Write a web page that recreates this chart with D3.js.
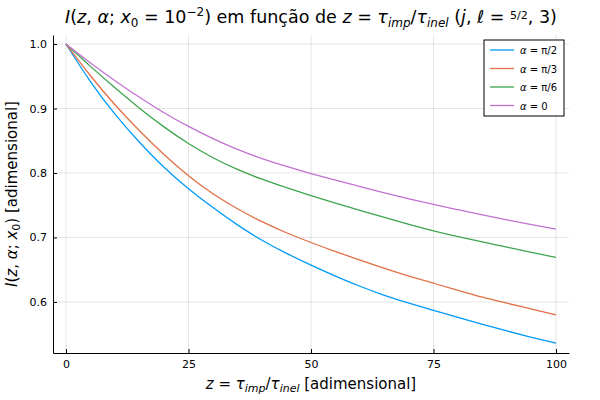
<!DOCTYPE html>
<html><head><meta charset="utf-8">
<script src="https://cdn.jsdelivr.net/npm/d3@7"></script>
<style>body{margin:0;background:#fff}text{font-family:"DejaVu Sans",sans-serif}</style>
</head><body><svg></svg>
<script>
const xs = [0,5,10,15,20,25,30,35,40,45,50,55,60,65,70,75,80,85,90,95,100];
const seriesNames = ["α = π/2","α = π/3","α = π/6","α = 0"];
const colors = ["#009af9","#e26f46","#3da44d","#c271d2"];
const sHalfPi = [1,.94,.89,.847,.808,.775,.746,.719,.695,.675,.657,.64,.624,.61,.598,.587,.576,.565,.555,.545,.536];
const sThirdPi = [1,.95,.905,.865,.828,.795,.767,.744,.724,.707,.692,.678,.665,.652,.64,.629,.618,.607,.598,.589,.58];
const sSixthPi = [1,.965,.932,.9,.871,.845,.823,.805,.79,.777,.765,.753,.742,.731,.72,.71,.701,.693,.685,.677,.669];
const sZero = [1,.97,.943,.917,.893,.872,.853,.836,.822,.81,.799,.789,.779,.769,.76,.751,.743,.735,.727,.72,.713];
const series = [sHalfPi,sThirdPi,sSixthPi,sZero];
const xTicks = [0,25,50,75,100];
const yTicks = [0.6,0.7,0.8,0.9,1.0];

const W=600,H=400,L=53,R=569,T=35,B=353;
const svg=d3.select("svg").attr("width",W).attr("height",H);
const x=d3.scaleLinear().domain([-2.65,102.65]).range([L,R]);
const y=d3.scaleLinear().domain([0.5208,1.014]).range([B,T]);

svg.append("g").selectAll("line").data(xTicks).join("line")
  .attr("x1",d=>x(d)).attr("x2",d=>x(d)).attr("y1",T).attr("y2",B).attr("stroke","#000").attr("stroke-opacity",0.1);
svg.append("g").selectAll("line").data(yTicks).join("line")
  .attr("x1",L).attr("x2",R).attr("y1",d=>y(d)).attr("y2",d=>y(d)).attr("stroke","#000").attr("stroke-opacity",0.1);

const xAxis=svg.append("g").attr("transform",`translate(0,${B})`)
  .call(d3.axisBottom(x).tickValues(xTicks).tickSize(-4).tickPadding(7).tickSizeOuter(0));
const yAxis=svg.append("g").attr("transform",`translate(${L},0)`)
  .call(d3.axisLeft(y).tickValues(yTicks).tickFormat(d3.format(".1f")).tickSize(-4).tickPadding(6).tickSizeOuter(0));
[xAxis,yAxis].forEach(a=>{a.selectAll("text").attr("font-size",11).attr("font-family","DejaVu Sans");a.select(".domain").attr("stroke","#000");});

const line=d3.line().x((d,i)=>x(xs[i])).y(d=>y(d)).curve(d3.curveBasis);
svg.append("g").selectAll("path").data(series).join("path")
  .attr("d",line).attr("fill","none").attr("stroke",(d,i)=>colors[i]).attr("stroke-width",1.3);

const lg=svg.append("g").attr("transform","translate(484,40)");
lg.append("rect").attr("width",80).attr("height",76).attr("fill","#fff").attr("stroke","#000");
seriesNames.forEach((n,i)=>{
  const yy=10+i*18.5;
  lg.append("line").attr("x1",6).attr("x2",30).attr("y1",yy).attr("y2",yy).attr("stroke",colors[i]).attr("stroke-width",1.3);
  const t=lg.append("text").attr("x",36).attr("y",yy+4).attr("font-size",10);
  const p=n.split(" = ");
  t.append("tspan").attr("font-style","italic").text(p[0]);
  t.append("tspan").text(" = "+p[1]);
});

const tt=svg.append("text").attr("x",311).attr("y",23).attr("text-anchor","middle").attr("font-size",17.5);
const it=s=>tt.append("tspan").attr("font-style","italic").text(s);
const rm=s=>tt.append("tspan").text(s);
it("I");rm("(");it("z");rm(", ");it("α");rm("; ");it("x");
tt.append("tspan").attr("font-size",12).attr("dy",4).text("0");
tt.append("tspan").attr("dy",-4).text(" = 10");
tt.append("tspan").attr("font-size",12).attr("dy",-7).text("−2");
tt.append("tspan").attr("dy",7).text(") em função de ");
it("z");rm(" = ");it("τ");
tt.append("tspan").attr("font-size",12).attr("font-style","italic").attr("dy",4).text("imp");
tt.append("tspan").attr("dy",-4).text("/");it("τ");
tt.append("tspan").attr("font-size",12).attr("font-style","italic").attr("dy",4).text("inel");
tt.append("tspan").attr("dy",-4).text(" (");it("j");rm(", ");it("ℓ");rm(" = ");
tt.append("tspan").attr("font-size",11).attr("dy",-4).text("5/2");
tt.append("tspan").attr("dy",4).text(", 3)");

const xl=svg.append("text").attr("x",311).attr("y",389).attr("text-anchor","middle").attr("font-size",15);
xl.append("tspan").attr("font-style","italic").text("z");
xl.append("tspan").text(" = ");
xl.append("tspan").attr("font-style","italic").text("τ");
xl.append("tspan").attr("font-size",11).attr("font-style","italic").attr("dy",3).text("imp");
xl.append("tspan").attr("dy",-3).text("/");
xl.append("tspan").attr("font-style","italic").text("τ");
xl.append("tspan").attr("font-size",11).attr("font-style","italic").attr("dy",3).text("inel");
xl.append("tspan").attr("dy",-3).text(" [adimensional]");

const yl=svg.append("text").attr("transform",`translate(17,${(T+B)/2}) rotate(-90)`).attr("text-anchor","middle").attr("font-size",15);
yl.append("tspan").attr("font-style","italic").text("I");
yl.append("tspan").text("(");
yl.append("tspan").attr("font-style","italic").text("z");
yl.append("tspan").text(", ");
yl.append("tspan").attr("font-style","italic").text("α");
yl.append("tspan").text("; ");
yl.append("tspan").attr("font-style","italic").text("x");
yl.append("tspan").attr("font-size",11).attr("dy",3).text("0");
yl.append("tspan").attr("dy",-3).text(") [adimensional]");
</script></body></html>
